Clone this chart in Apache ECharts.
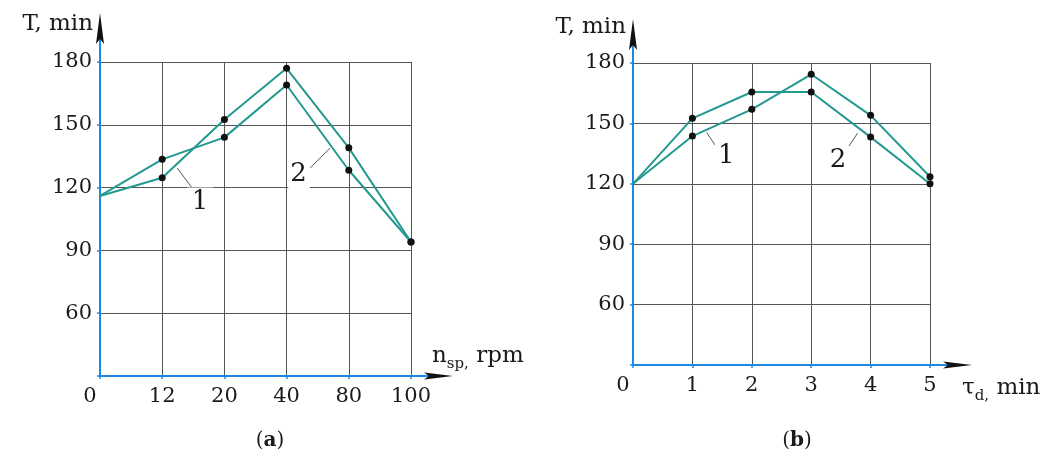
<!DOCTYPE html>
<html>
<head>
<meta charset="utf-8">
<script src="https://cdn.jsdelivr.net/npm/echarts@6/dist/echarts.min.js"></script>
<style>
html,body{margin:0;padding:0;background:#fff;}
#chart{width:1061px;height:456px;}
</style>
</head>
<body>
<div id="chart"></div>
<script>
// ---- data ----
const xLabelsA = ['0', '12', '20', '40', '80', '100'];
const xLabelsB = ['0', '1', '2', '3', '4', '5'];
const yTickValues = [60, 90, 120, 150, 180];
const seriesA1 = [116, 124.7, 152.5, 177, 139, 94];
const seriesA2 = [116, 133.5, 144, 169, 128.3, 94];
const seriesB1 = [120, 143.7, 157, 174.4, 154, 123.5];
const seriesB2 = [120, 152.5, 165.6, 165.6, 143.2, 120];

// ---- styling ----
const FONT = 'DejaVu Serif';
const FS = 21;
const TEAL = '#22998f';
const BLUE = '#1e88e5';
const GRIDC = '#555';
const TXT = '#1a1a1a';
const ARROW = '#111';
const Y_MIN = 30, Y_MAX = 180, Y_INT = 30;

const chart = echarts.init(document.getElementById('chart'));

function xAxis(gridIndex, labels, nameRich, nameGap, namePad, subPad) {
  return {
    type: 'value', gridIndex, min: 0, max: labels.length - 1, interval: 1,
    axisLine: { show: true, lineStyle: { color: BLUE, width: 2 } },
    axisTick: { show: true, length: 3, lineStyle: { color: BLUE, width: 1.5 } },
    splitLine: { show: true, lineStyle: { color: GRIDC, width: 1 } },
    axisLabel: {
      margin: 10, fontFamily: FONT, fontSize: FS, color: TXT,
      formatter: v => v === 0 ? '{z|' + labels[0] + '}' : labels[v],
      rich: { z: { fontFamily: FONT, fontSize: FS, color: TXT, padding: [0, 20, 0, 0] } }
    },
    name: nameRich, nameLocation: 'end', nameGap: nameGap,
    nameTextStyle: {
      fontFamily: FONT, fontSize: FS, color: TXT, align: 'left', verticalAlign: 'middle',
      padding: namePad,
      rich: {
        m: { fontFamily: FONT, fontSize: 23, color: TXT },
        s: { fontFamily: FONT, fontSize: 15, color: TXT, padding: subPad }
      }
    }
  };
}
function yAxis(gridIndex, nameGap) {
  return {
    type: 'value', gridIndex, min: Y_MIN, max: Y_MAX, interval: Y_INT,
    axisLine: { show: true, lineStyle: { color: BLUE, width: 2 } },
    axisTick: { show: true, length: 3, lineStyle: { color: BLUE, width: 1.5 } },
    splitLine: { show: true, lineStyle: { color: GRIDC, width: 1 } },
    axisLabel: {
      margin: 8, fontFamily: FONT, fontSize: FS, color: TXT,
      formatter: v => yTickValues.indexOf(v) >= 0 ? String(v) : ''
    },
    name: 'T, min', nameLocation: 'end', nameGap: nameGap,
    nameTextStyle: { fontFamily: FONT, fontSize: 23, color: TXT, align: 'right', verticalAlign: 'middle', padding: [0, 7, 0, 0] }
  };
}

function pts(vals) {
  return vals.map((v, i) => i === 0 ? { value: [i, v], symbol: 'none' } : [i, v]);
}

function leader(a, b) {
  const s = { color: '#555', width: 1, type: 'solid' };
  return [{ coord: a, lineStyle: s, symbol: 'none' }, { coord: b, lineStyle: s, symbol: 'none' }];
}
function note(name, coord, pad) {
  return {
    name, coord, symbol: 'circle', symbolSize: 1, itemStyle: { color: 'rgba(0,0,0,0)' },
    label: { show: true, position: 'inside', formatter: name, fontFamily: FONT, fontSize: 26, color: TXT,
      backgroundColor: '#fff', padding: pad }
  };
}

function lineSeries(vals, xi, yi, extra) {
  return Object.assign({
    type: 'line', xAxisIndex: xi, yAxisIndex: yi, data: pts(vals),
    symbol: 'circle', symbolSize: 7, showSymbol: true, animation: false,
    itemStyle: { color: '#111' },
    lineStyle: { color: TEAL, width: 2 },
    z: 3
  }, extra || {});
}

const option = {
  animation: false,
  grid: [
    { left: 100, top: 62, width: 311, height: 314, containLabel: false },
    { left: 633, top: 63, width: 297, height: 302, containLabel: false }
  ],
  xAxis: [
    xAxis(0, xLabelsA, '{m|n}{s|sp,}{m| rpm}', 21, [0, 0, 40, 0], [16, 0, 0, 0]),
    xAxis(1, xLabelsB, '{m|\u03C4}{s|d,}{m| min}', 32, [46, 0, 0, 0], [16, 0, 0, 0])
  ],
  yAxis: [yAxis(0, 38), yAxis(1, 36)],
  series: [
    lineSeries(seriesA1, 0, 0, {
      markLine: { silent: true, animation: false, label: { show: false }, symbol: 'none',
        data: [leader([1.24, 129.4], [1.53, 117.9]), leader([3.38, 129.4], [3.70, 138.9])] },
      markPoint: { silent: true, animation: false,
        data: [note('1', [1.61, 113.1], [3, 5, 0, 5]), note('2', [3.2, 126.5], [0, 3, 5, 2])] }
    }),
    lineSeries(seriesA2, 0, 0),
    lineSeries(seriesB1, 1, 1, {
      markLine: { silent: true, animation: false, label: { show: false }, symbol: 'none',
        data: [leader([1.24, 145.4], [1.44, 136.8]), leader([3.63, 138.5], [3.78, 145.1])] },
      markPoint: { silent: true, animation: false,
        data: [note('1', [1.57, 133.8], [1, 3, 1, 3]), note('2', [3.45, 131.8], [1, 3, 1, 3])] }
    }),
    lineSeries(seriesB2, 1, 1)
  ]
};
chart.setOption(option);

// ---- axis extensions with arrowheads (decoration, placed from the axes' own pixel mapping) ----
const ext = [
  { grid: 0, xMax: xLabelsA.length - 1, up: 49, right: 42 },
  { grid: 1, xMax: xLabelsB.length - 1, up: 44, right: 42 }
];
const g = [];
ext.forEach(e => {
  const o = chart.convertToPixel({ gridIndex: e.grid }, [0, Y_MIN]);
  const top = chart.convertToPixel({ gridIndex: e.grid }, [0, Y_MAX]);
  const rgt = chart.convertToPixel({ gridIndex: e.grid }, [e.xMax, Y_MIN]);
  const ty = top[1] - e.up, tx = rgt[0] + e.right;
  g.push({ type: 'line', shape: { x1: o[0], y1: top[1], x2: o[0], y2: ty + 20 }, style: { stroke: BLUE, lineWidth: 2 }, z: 10 });
  g.push({ type: 'polygon', shape: { points: [[o[0], ty], [o[0] - 4, ty + 31], [o[0], ty + 26], [o[0] + 4, ty + 31]] }, style: { fill: ARROW }, z: 11 });
  g.push({ type: 'line', shape: { x1: rgt[0], y1: o[1], x2: tx - 20, y2: o[1] }, style: { stroke: BLUE, lineWidth: 2 }, z: 10 });
  g.push({ type: 'polygon', shape: { points: [[tx, o[1]], [tx - 29, o[1] - 3.5], [tx - 24, o[1]], [tx - 29, o[1] + 3.5]] }, style: { fill: ARROW }, z: 11 });
});
g.push({ type: 'text', x: 270, y: 441, style: { text: '({b|a})', rich: { b: { fontFamily: FONT, fontSize: 20, fontWeight: 'bold', fill: TXT } }, font: '20px "DejaVu Serif"', fill: TXT, align: 'center', verticalAlign: 'middle' } });
g.push({ type: 'text', x: 797, y: 441, style: { text: '({b|b})', rich: { b: { fontFamily: FONT, fontSize: 20, fontWeight: 'bold', fill: TXT } }, font: '20px "DejaVu Serif"', fill: TXT, align: 'center', verticalAlign: 'middle' } });
chart.setOption({ graphic: g });
</script>
</body>
</html>
